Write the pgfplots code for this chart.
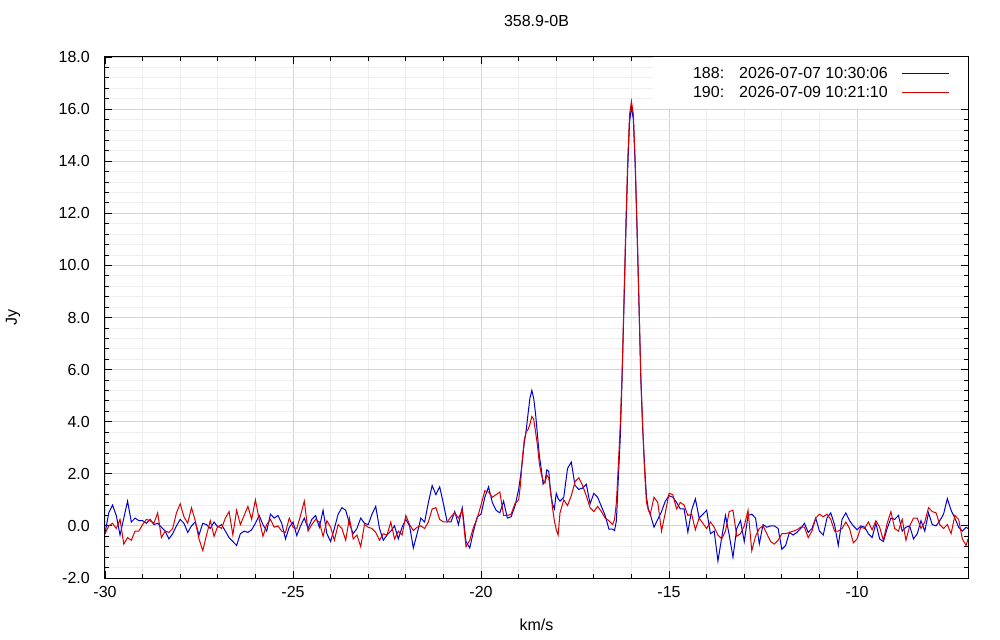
\documentclass[border=0pt]{standalone}
\usepackage{fontspec}
\setmainfont{Liberation Sans}
\usepackage{pgfplots}
\usepackage{pgfplotstable}
\pgfplotsset{compat=1.18}
\definecolor{myblue}{RGB}{0,0,210}
\definecolor{myred}{RGB}{215,0,0}
\definecolor{gmaj}{RGB}{212,212,212}
\definecolor{gmin}{RGB}{238,238,238}
\pgfplotstableread{
x b r
-30.0 -0.30 -0.30
-29.9 0.50 0.00
-29.8 0.80 0.10
-29.7 0.40 -0.10
-29.6 -0.35 0.25
-29.5 0.30 -0.70
-29.4 0.95 -0.45
-29.3 0.15 -0.55
-29.2 0.30 -0.20
-29.1 0.20 -0.20
-29.0 0.20 0.05
-28.9 0.10 0.25
-28.8 0.25 0.20
-28.7 0.05 0.10
-28.6 0.10 0.50
-28.5 -0.05 -0.45
-28.4 -0.20 -0.20
-28.3 -0.50 -0.25
-28.2 -0.30 -0.10
-28.1 0.00 0.50
-28.0 0.25 0.85
-27.9 0.10 0.35
-27.8 -0.25 0.10
-27.7 0.00 0.70
-27.6 0.15 0.20
-27.5 -0.35 -0.50
-27.4 0.10 -0.95
-27.3 0.05 -0.35
-27.2 -0.10 0.20
-27.1 0.15 -0.40
-27.0 -0.05 0.00
-26.9 0.05 -0.10
-26.8 -0.20 0.30
-26.7 -0.45 0.55
-26.6 -0.60 -0.35
-26.5 -0.75 0.60
-26.4 -0.30 0.05
-26.3 -0.20 0.40
-26.2 -0.25 0.75
-26.1 -0.15 0.25
-26.0 0.10 1.00
-25.9 0.40 0.25
-25.8 0.05 -0.40
-25.7 -0.20 0.05
-25.6 0.45 0.25
-25.5 0.30 -0.05
-25.4 0.40 0.00
-25.3 0.10 -0.20
-25.2 -0.50 -0.25
-25.1 -0.05 0.30
-25.0 0.15 -0.05
-24.9 -0.37 -0.10
-24.8 0.00 0.40
-24.7 0.30 0.95
-24.6 -0.10 -0.20
-24.5 0.25 0.05
-24.4 0.40 0.25
-24.3 -0.05 0.15
-24.2 0.60 -0.40
-24.1 -0.30 0.20
-24.0 -0.60 -0.05
-23.9 -0.10 -0.55
-23.8 0.45 0.05
-23.7 0.70 -0.10
-23.6 0.60 -0.55
-23.5 0.10 0.30
-23.4 -0.30 -0.50
-23.3 -0.10 -0.35
-23.2 0.30 -0.80
-23.1 0.10 0.05
-23.0 0.05 -0.05
-22.9 0.45 -0.10
-22.8 0.75 -0.25
-22.7 -0.10 -0.55
-22.6 -0.55 -0.30
-22.5 -0.35 -0.35
-22.4 -0.20 0.15
-22.3 0.00 -0.50
-22.2 -0.50 -0.20
-22.1 -0.05 -0.35
-22.0 0.25 0.40
-21.9 0.00 0.05
-21.8 -0.85 -0.18
-21.7 -0.30 -0.05
-21.6 0.30 0.00
-21.5 0.15 -0.10
-21.4 0.90 0.15
-21.3 1.55 0.65
-21.2 1.20 0.70
-21.1 1.50 0.25
-21.0 0.85 0.15
-20.9 0.15 0.15
-20.8 0.15 0.35
-20.7 0.55 0.50
-20.6 0.05 0.30
-20.5 0.70 0.60
-20.4 -0.60 -0.80
-20.3 -0.85 -0.55
-20.2 -0.20 -0.05
-20.1 0.35 0.30
-20.0 0.45 0.80
-19.9 1.10 1.35
-19.8 1.50 1.30
-19.7 0.90 1.10
-19.6 0.60 1.20
-19.5 0.50 1.30
-19.4 0.95 0.40
-19.3 0.30 0.40
-19.2 0.35 0.45
-19.1 0.75 0.85
-19.0 1.40 1.00
-18.95 1.90 1.60
-18.9 2.50 2.60
-18.85 3.20 3.30
-18.8 3.66 3.60
-18.75 4.30 3.70
-18.7 4.90 3.90
-18.65 5.20 4.20
-18.6 4.90 4.10
-18.55 4.30 3.60
-18.5 3.50 3.10
-18.45 2.70 2.40
-18.4 2.20 2.00
-18.35 1.60 1.75
-18.3 1.70 1.65
-18.25 2.15 1.95
-18.2 2.10 1.85
-18.15 1.30 1.30
-18.1 0.85 0.70
-18.05 0.65 0.20
-18.0 1.25 -0.15
-17.95 1.05 -0.35
-17.9 0.95 0.50
-17.8 1.10 1.00
-17.7 2.20 0.78
-17.6 2.45 1.16
-17.5 1.55 1.70
-17.4 1.40 1.85
-17.3 1.45 1.55
-17.2 1.60 1.15
-17.1 0.85 0.70
-17.0 1.25 0.55
-16.9 1.10 0.75
-16.8 0.75 0.55
-16.7 0.40 0.30
-16.6 -0.12 0.20
-16.5 -0.12 0.05
-16.45 -0.18 0.25
-16.40 0.20 0.90
-16.35 1.80 2.30
-16.30 3.30 3.80
-16.25 5.60 5.80
-16.20 8.40 8.60
-16.15 11.2 11.5
-16.10 13.7 14.0
-16.05 15.5 15.8
-16.00 16.1 16.3
-15.95 15.6 15.8
-15.90 13.8 14.0
-15.85 11.3 11.4
-15.80 8.5 8.6
-15.75 5.6 5.7
-15.70 3.7 3.8
-15.65 2.3 2.1
-15.60 1.1 0.9
-15.55 0.65 0.60
-15.50 0.45 0.45
-15.4 -0.05 1.10
-15.3 0.25 0.90
-15.2 0.55 -0.20
-15.1 0.95 0.50
-15.0 1.16 1.25
-14.9 1.10 1.20
-14.8 0.90 0.65
-14.7 0.65 0.90
-14.6 0.65 0.80
-14.5 -0.24 0.40
-14.4 0.60 0.45
-14.3 1.04 -0.15
-14.2 0.30 0.30
-14.1 0.45 0.10
-14.0 0.60 -0.10
-13.9 -0.30 0.15
-13.8 -0.20 -0.05
-13.7 -1.35 -0.35
-13.6 -0.45 -0.50
-13.5 0.40 -0.20
-13.4 -0.35 0.55
-13.3 -1.20 0.60
-13.2 -0.10 -0.40
-13.1 0.20 -0.30
-13.0 -0.60 0.00
-12.9 0.40 0.60
-12.8 0.45 -0.95
-12.7 0.30 -0.40
-12.6 -0.69 -0.10
-12.5 0.05 0.00
-12.4 -0.05 -0.30
-12.3 0.00 -0.60
-12.2 0.00 -0.70
-12.1 -0.10 -0.55
-12.0 -0.90 -0.30
-11.9 -0.75 -0.30
-11.8 -0.25 -0.25
-11.7 -0.35 -0.20
-11.6 -0.25 -0.15
-11.5 -0.10 -0.05
-11.4 0.10 -0.05
-11.3 -0.25 -0.45
-11.2 -0.10 -0.20
-11.1 0.30 0.30
-11.0 -0.20 0.45
-10.9 -0.35 0.35
-10.8 0.30 0.45
-10.7 0.50 0.25
-10.6 0.05 -0.20
-10.5 -0.75 -0.20
-10.4 0.25 -0.10
-10.3 0.50 0.15
-10.2 0.20 -0.10
-10.1 0.00 -0.65
-10.0 -0.15 -0.50
-9.9 0.00 -0.05
-9.8 -0.05 -0.10
-9.7 -0.30 0.15
-9.6 -0.45 -0.15
-9.5 0.10 0.20
-9.4 -0.50 -0.05
-9.3 -0.60 -0.55
-9.2 -0.10 0.10
-9.1 0.30 0.55
-9.0 0.25 -0.10
-8.9 0.40 -0.20
-8.8 -0.20 0.25
-8.7 -0.05 -0.55
-8.6 0.00 0.00
-8.5 -0.50 0.30
-8.4 -0.30 0.30
-8.3 0.20 -0.10
-8.2 -0.20 0.15
-8.1 0.50 0.70
-8.0 0.05 0.55
-7.9 0.00 0.50
-7.8 0.20 0.05
-7.7 0.45 -0.10
-7.6 1.05 0.05
-7.5 0.60 -0.30
-7.4 0.30 0.40
-7.3 -0.05 0.25
-7.2 -0.20 -0.50
-7.1 -0.05 -0.75
-7.05 -0.10 -0.50
}\spec
\begin{document}
\begin{tikzpicture}
\useasboundingbox (-105bp,-62bp) rectangle (895bp,578bp);
\begin{axis}[
  scale only axis, width=863bp, height=521bp,
  at={(0,0)}, anchor=south west,
  font=\fontsize{16bp}{19bp}\selectfont,
  /pgf/number format/assume math mode=true,
  xmin=-30, xmax=-7.05, ymin=-2, ymax=18,
  xtick={-30,-25,...,-10}, ytick={-2,0,...,18},
  minor x tick num=4, minor y tick num=4,
  xtick pos=both, ytick pos=both,
  tick align=inside,
  major tick length=7bp, minor tick length=4bp,
  tick style={black, line width=0.8bp},
  axis line style={black, line width=1bp},
  grid=both,
  major grid style={draw=gmaj, line width=0.8bp},
  minor grid style={draw=gmin, line width=0.8bp},
  yticklabel style={anchor=east, inner sep=0pt, xshift=-15bp,
    /pgf/number format/.cd, fixed, fixed zerofill, precision=1},
  xticklabel style={anchor=north, inner sep=0pt, yshift=-8bp},
  title={358.9-0B},
  title style={at={(axis description cs:0.5,1)}, anchor=center, yshift=30bp},
  xlabel={km/s},
  xlabel style={at={(axis description cs:0.5,0)}, anchor=center, yshift=-47bp},
  ylabel={Jy},
  ylabel style={at={(axis description cs:-0.1066,0.5)}, anchor=center},
  legend plot pos=right, legend cell align=right,
  legend style={at={(1,1)}, anchor=north east, fill=white, draw=none,
    inner xsep=18bp, inner ysep=9bp, row sep=4bp, column sep=14bp,
    nodes={inner sep=0pt, text height=12bp, text depth=3bp},
    font=\fontsize{16bp}{19bp}\selectfont},
  legend image code/.code={\draw[#1, line width=1bp] (0bp,0bp) -- (47bp,0bp);},
]
\addplot[myblue, line width=1bp] table[x=x, y=b] {\spec};
\addlegendentry{\hspace*{22bp}188:\hspace{15bp}2026-07-07 10:30:06}
\addplot[myred, line width=1bp] table[x=x, y=r] {\spec};
\addlegendentry{190:\hspace{15bp}2026-07-09 10:21:10}
\end{axis}
\end{tikzpicture}
\end{document}
